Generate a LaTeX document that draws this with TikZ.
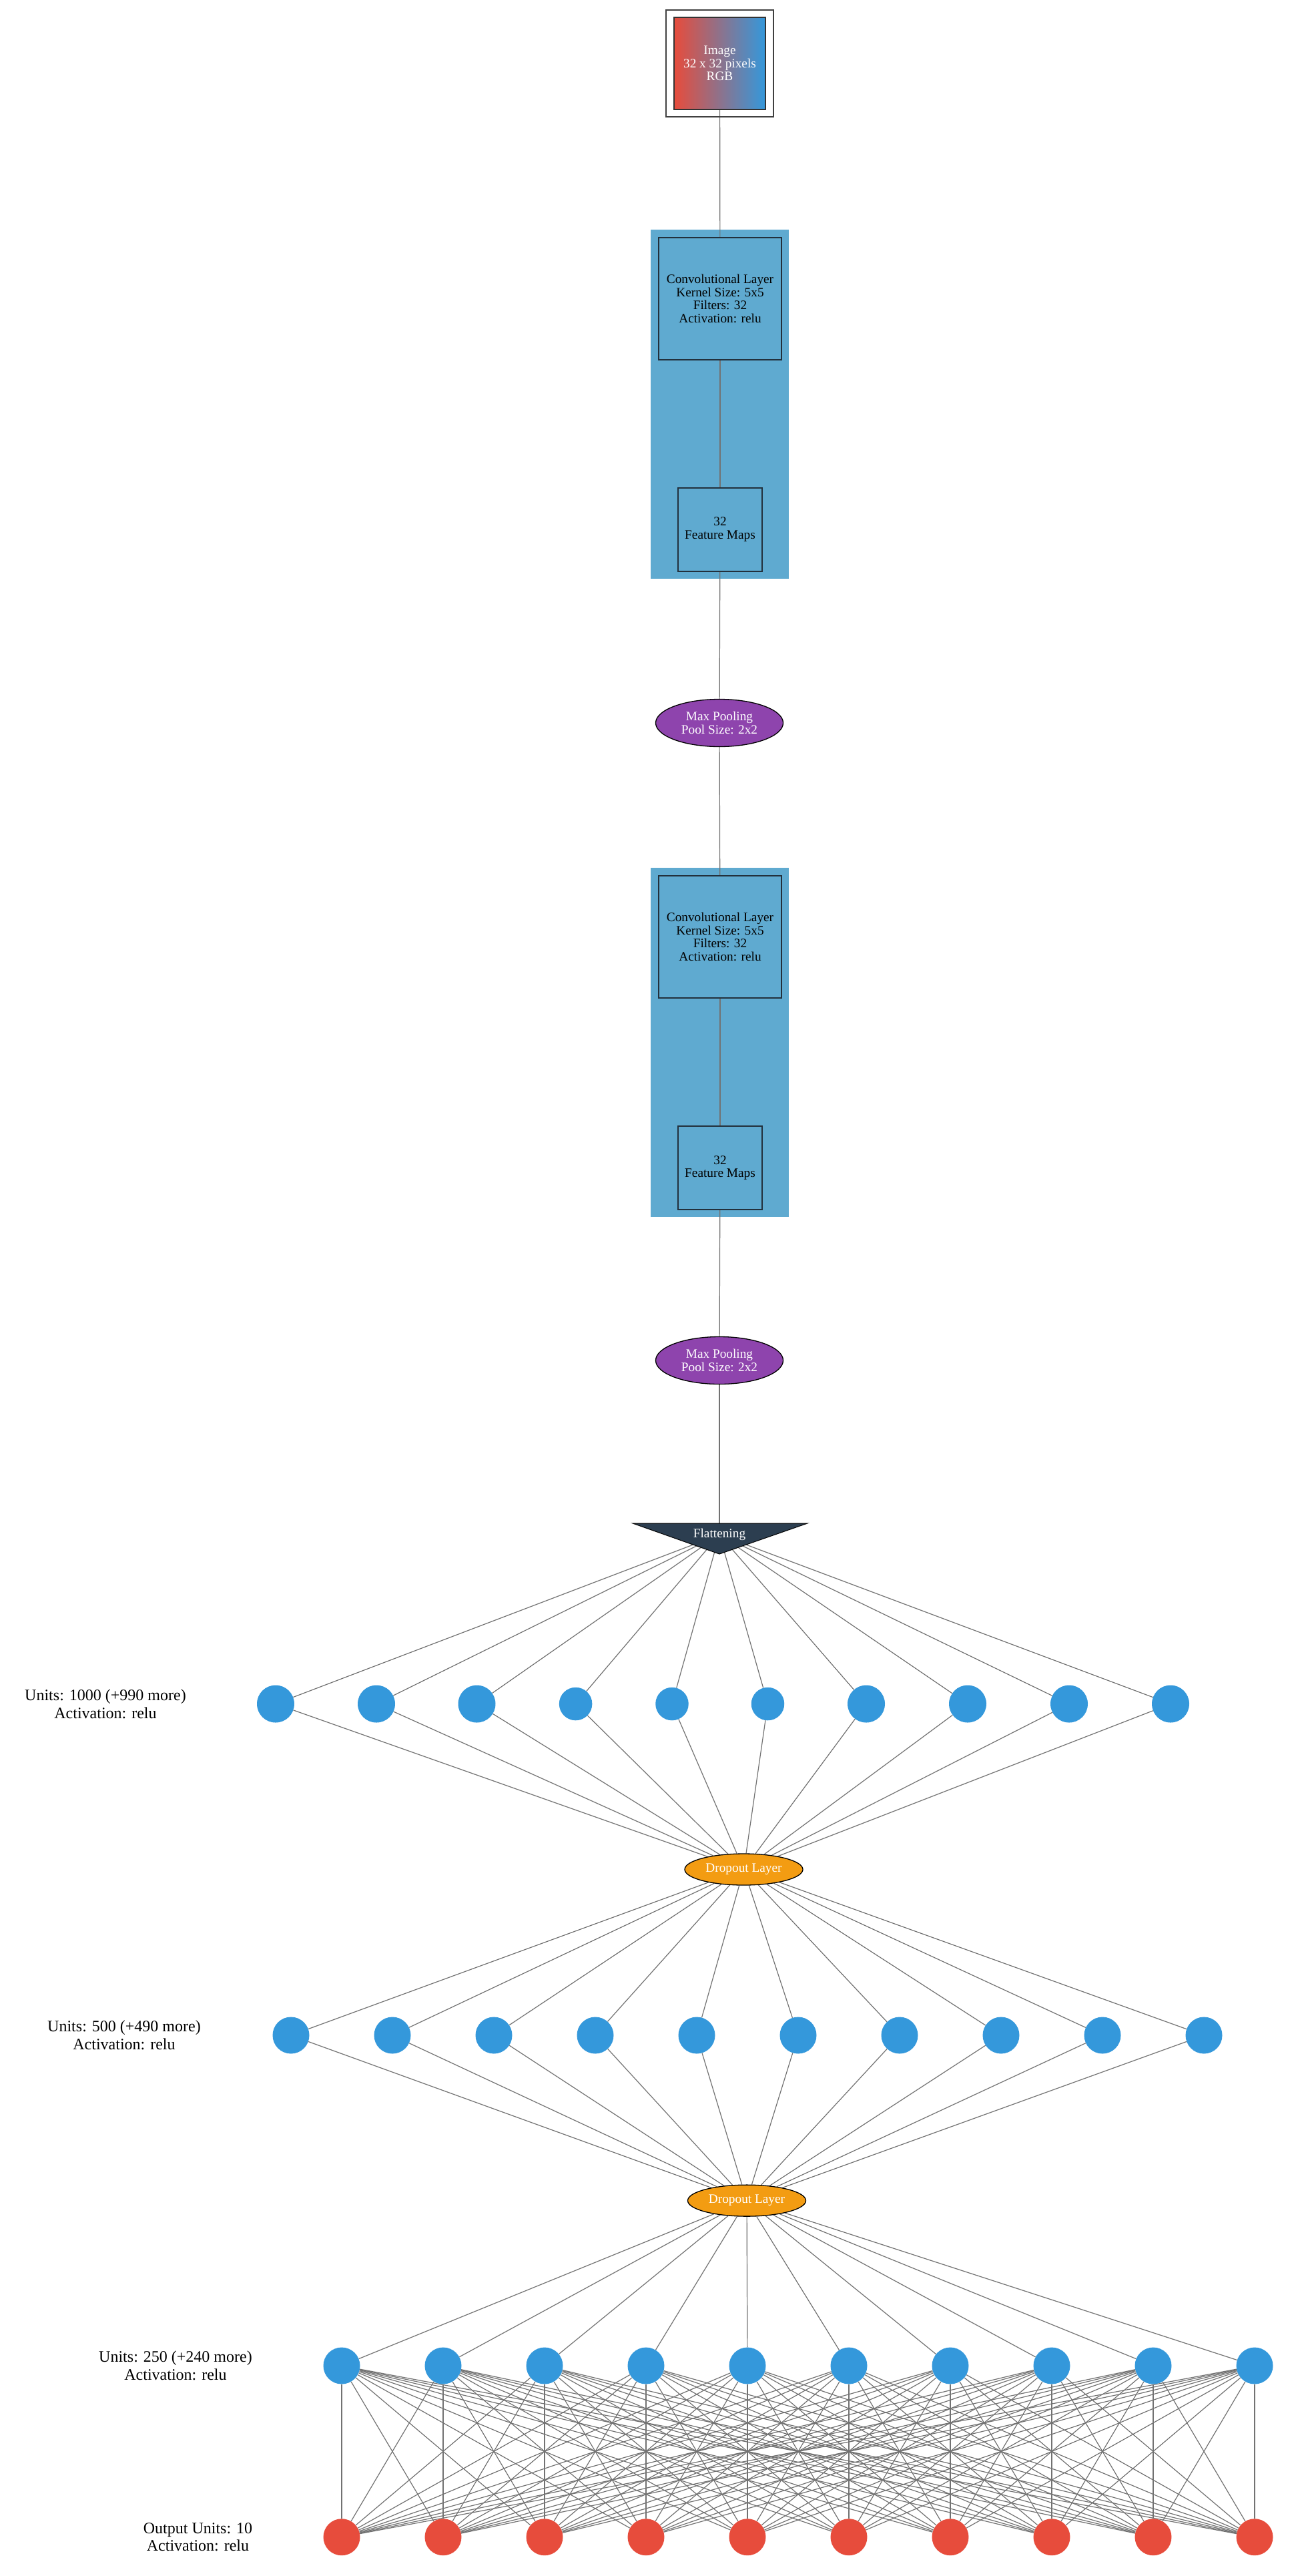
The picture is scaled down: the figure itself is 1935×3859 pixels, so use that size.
\documentclass[tikz,border=0pt]{standalone}
\usepackage{fontspec}
\setmainfont{Liberation Serif}
\usetikzlibrary{shapes.geometric}
\pgfdeclarelayer{bg}
\pgfdeclarelayer{edges}
\pgfsetlayers{bg,edges,main}
\definecolor{convc}{HTML}{5FAAD0}
\definecolor{convb}{HTML}{22303C}
\definecolor{poolc}{HTML}{8E44AD}
\definecolor{dropc}{HTML}{F39C12}
\definecolor{flatc}{HTML}{2C3E50}
\definecolor{densec}{HTML}{3498DB}
\definecolor{outc}{HTML}{E74C3C}
\definecolor{edgec}{HTML}{727272}
\begin{document}
\begin{tikzpicture}[x=1pt,y=-1pt,
  boxtxt/.style={font=\fontsize{19.3}{19.7}\selectfont, align=center},
  lbl/.style={font=\fontsize{24}{26.7}\selectfont, align=center, inner sep=0pt},
  conn/.style={draw=edgec, line width=1.2pt},
  convbox/.style={boxtxt, rectangle, draw=convb, line width=1.5pt, fill=convc, inner sep=0pt},
  poolnode/.style={boxtxt, ellipse, draw=black, line width=1.3pt, fill=poolc, text=white, minimum width=191pt, minimum height=71pt, inner sep=0pt},
  dropnode/.style={boxtxt, ellipse, draw=black, line width=1.3pt, fill=dropc, text=white, minimum width=177pt, minimum height=47pt, inner sep=0pt},
  unit/.style={circle, fill=densec, minimum size=56pt, inner sep=0pt},
  outunit/.style={unit, fill=outc}]
\useasboundingbox (0,0) rectangle (1935,3859);
\begin{pgfonlayer}{bg}
\fill[white] (0,0) rectangle (1935,3859);
\end{pgfonlayer}

% image input
\draw[draw=black!75, line width=1.5pt] (998,15) rectangle (1159,175);
\node[boxtxt, text=white, left color=outc, right color=densec, draw=black!80, line width=1.5pt,
      minimum width=137pt, minimum height=138pt, inner sep=0pt] (img) at (1078.5,95)
      {Image\\32 x 32 pixels\\RGB};

% convolution clusters
\begin{pgfonlayer}{bg}
\fill[convc] (975,344) rectangle (1182,867);
\fill[convc] (975,1300) rectangle (1182,1823);
\end{pgfonlayer}
\node[convbox, minimum width=184pt, minimum height=183pt] (conva) at (1079,447.5)
  {Convolutional Layer\\Kernel Size: 5x5\\Filters: 32\\Activation: relu};
\node[convbox, minimum width=126pt, minimum height=125pt] (fma) at (1079,793.5)
  {32\\Feature Maps};
\node[poolnode] (mpa) at (1078,1083) {Max Pooling\\Pool Size: 2x2};
\node[convbox, minimum width=184pt, minimum height=183pt] (convb) at (1079,1403.5)
  {Convolutional Layer\\Kernel Size: 5x5\\Filters: 32\\Activation: relu};
\node[convbox, minimum width=126pt, minimum height=125pt] (fmb) at (1079,1749.5)
  {32\\Feature Maps};
\node[poolnode] (mpb) at (1078,2038) {Max Pooling\\Pool Size: 2x2};

% flattening
\filldraw[fill=flatc, draw=black, line width=1pt] (948,2282) -- (1210,2282) -- (1078,2328) -- cycle;
\node[boxtxt, text=white, inner sep=0pt] (flat) at (1078,2299) {Flattening};

% dense layers
\foreach \x [count=\i] in {413,564,714.5,862.6,1007,1150.5,1298,1450,1602,1754} {
  \ifnum\i>3 \ifnum\i<7 \def\usz{49.5pt}\else\def\usz{56pt}\fi\else\def\usz{56pt}\fi
  \node[unit, minimum size=\usz] (a\i) at (\x,2552.5) {};
}
\node[dropnode] (da) at (1114.5,2800.5) {Dropout Layer};
\foreach \i in {1,...,10} {
  \node[unit, minimum size=55pt] (b\i) at ({436+152*(\i-1)},3049) {};
}
\node[dropnode] (db) at (1119,3296.6) {Dropout Layer};
\foreach \i in {1,...,10} {
  \node[unit, minimum size=55pt] (c\i) at ({512+152*(\i-1)},3544) {};
  \node[outunit, minimum size=55pt] (o\i) at ({512+152*(\i-1)},3800.7) {};
}

% labels
\node[lbl] (la) at (158,2552.5) {Units: 1000 (+990 more)\\Activation: relu};
\node[lbl] (lb) at (186,3049) {Units: 500 (+490 more)\\Activation: relu};
\node[lbl] (lc) at (263,3544) {Units: 250 (+240 more)\\Activation: relu};
\node[lbl] (lo) at (296.5,3800.7) {Output Units: 10\\Activation: relu};

% connectors
\begin{pgfonlayer}{edges}
\draw[conn] (img) -- (conva);
\draw[conn] (conva) -- (fma);
\draw[conn] (fma) -- (mpa);
\draw[conn] (mpa) -- (convb);
\draw[conn] (convb) -- (fmb);
\draw[conn] (fmb) -- (mpb);
\draw[conn] (mpb) -- (flat.north);
\foreach \i in {1,...,10} {
  \draw[conn] (flat.center) -- (a\i);
  \draw[conn] (a\i) -- (da);
  \draw[conn] (da) -- (b\i);
  \draw[conn] (b\i) -- (db);
  \draw[conn] (db) -- (c\i);
  \foreach \j in {1,...,10} {
    \draw[conn] (c\i) -- (o\j);
  }
}
\end{pgfonlayer}
\end{tikzpicture}
\end{document}
